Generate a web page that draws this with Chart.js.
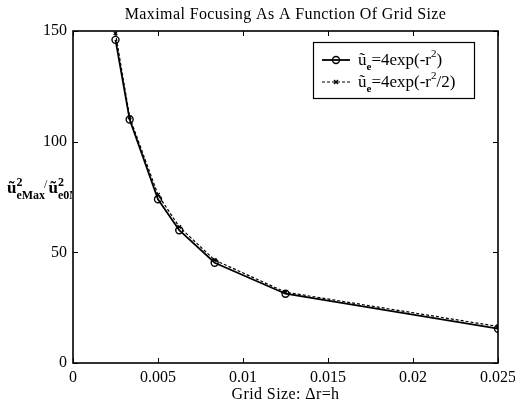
<!DOCTYPE html>
<html>
<head>
<meta charset="utf-8">
<script src="https://cdn.jsdelivr.net/npm/chart.js@4/dist/chart.umd.min.js"></script>
<style>
  html, body { margin: 0; padding: 0; background: #fff; }
  #wrap { width: 515px; height: 405px; position: relative; }
</style>
</head>
<body>
<div id="wrap"><canvas id="focusChart"></canvas></div>
<script>
// --- Data ---
const gridSizes = [0.0025, 0.003333, 0.005, 0.00625, 0.008333, 0.0125, 0.025];
const focusGauss = [146, 110, 74, 60, 45.3, 31.3, 15.5];      // 4exp(-r^2)
const focusGaussHalf = [149, 111, 76, 61.5, 46.5, 32, 16.5];   // 4exp(-r^2/2)
const xTicks = [0, 0.005, 0.01, 0.015, 0.02, 0.025];
const xTickLabels = ['0', '0.005', '0.01', '0.015', '0.02', '0.025'];
const yTicks = [0, 50, 100, 150];

const SERIF = "'Liberation Serif', 'DejaVu Serif', serif";

function toPoints(xs, ys) {
    return xs.map((x, i) => ({ x: x, y: ys[i] }));
}

// draw a run of text pieces, each with its own size / offset
function drawRich(ctx, x, y, parts) {
    let cx = x;
    parts.forEach(p => {
        ctx.font = (p.bold ? 'bold ' : '') + p.size + 'px ' + SERIF;
        ctx.fillText(p.t, cx, y + (p.dy || 0));
        cx += ctx.measureText(p.t).width + (p.gap || 0);
    });
    return cx;
}

// frame, inward ticks, title, axis label and legend box
const matlabDecor = {
    id: 'matlabDecor',
    afterDraw(chart) {
        const ctx = chart.ctx;
        const a = chart.chartArea;
        const xs = chart.scales.x, ys = chart.scales.y;
        ctx.save();
        ctx.strokeStyle = '#000';
        ctx.lineWidth = 1.6;
        ctx.strokeRect(a.left, a.top, a.right - a.left, a.bottom - a.top);

        ctx.lineWidth = 1;
        ctx.beginPath();
        xTicks.forEach(v => {
            const px = Math.round(xs.getPixelForValue(v)) + 0.5;
            ctx.moveTo(px, a.bottom); ctx.lineTo(px, a.bottom - 5);
            ctx.moveTo(px, a.top); ctx.lineTo(px, a.top + 5);
        });
        yTicks.forEach(v => {
            const py = Math.round(ys.getPixelForValue(v)) + 0.5;
            ctx.moveTo(a.left, py); ctx.lineTo(a.left + 5, py);
            ctx.moveTo(a.right, py); ctx.lineTo(a.right - 5, py);
        });
        ctx.stroke();

        ctx.fillStyle = '#000';
        ctx.textBaseline = 'alphabetic';
        ctx.textAlign = 'center';
        ctx.font = '16px ' + SERIF;
        ctx.letterSpacing = '0.4px';
        ctx.fillText('Maximal Focusing As A Function Of Grid Size', (a.left + a.right) / 2, 19);
        ctx.fillText('Grid Size: \u0394r=h', (a.left + a.right) / 2, 399);
        ctx.letterSpacing = '0px';

        // y axis label, clipped at the axis line
        ctx.textAlign = 'left';
        ctx.save();
        ctx.beginPath();
        ctx.rect(0, 150, a.left - 1, 80);
        ctx.clip();
        let cx = drawRich(ctx, 7, 193, [{ t: '\u0169', size: 17, bold: true }]);
        drawRich(ctx, cx, 186, [{ t: '2', size: 12, bold: true }]);
        cx = drawRich(ctx, cx, 199, [{ t: 'eMax', size: 12, bold: true }]);
        cx = drawRich(ctx, cx - 1, 188, [{ t: '/', size: 12 }]);
        cx = drawRich(ctx, cx + 1, 193, [{ t: '\u0169', size: 17, bold: true }]);
        drawRich(ctx, cx, 186, [{ t: '2', size: 12, bold: true }]);
        drawRich(ctx, cx, 199, [{ t: 'e0Max', size: 12, bold: true }]);
        ctx.restore();

        // legend
        const lx = 313, ly = 42, lw = 161, lh = 56;
        ctx.fillStyle = '#fff';
        ctx.fillRect(lx, ly, lw, lh);
        ctx.lineWidth = 1.2;
        ctx.strokeRect(lx + 0.5, ly + 0.5, lw, lh);
        ctx.fillStyle = '#000';

        const rows = [
            { y: 60, dash: [], width: 1.8, marker: 'circle', tail: [{ t: ')', size: 17 }] },
            { y: 82, dash: [3, 2], width: 1.2, marker: 'cross', tail: [{ t: '/2)', size: 17 }] }
        ];
        rows.forEach(r => {
            ctx.beginPath();
            ctx.setLineDash(r.dash);
            ctx.lineWidth = r.width;
            ctx.moveTo(322, r.y); ctx.lineTo(350, r.y);
            ctx.stroke();
            ctx.setLineDash([]);
            ctx.lineWidth = 1.4;
            ctx.beginPath();
            if (r.marker === 'circle') {
                ctx.arc(336, r.y, 3.5, 0, Math.PI * 2);
            } else {
                ctx.moveTo(334, r.y - 2); ctx.lineTo(338, r.y + 2);
                ctx.moveTo(338, r.y - 2); ctx.lineTo(334, r.y + 2);
            }
            ctx.stroke();
            let tx = drawRich(ctx, 358, r.y + 5, [{ t: '\u0169', size: 17 }]);
            tx = drawRich(ctx, tx, r.y + 10, [{ t: 'e', size: 11, bold: true }]);
            tx = drawRich(ctx, tx, r.y + 5, [{ t: '=4exp(-r', size: 17 }]);
            tx = drawRich(ctx, tx, r.y - 3, [{ t: '2', size: 11 }]);
            drawRich(ctx, tx, r.y + 5, r.tail);
        });
        ctx.restore();
    }
};

const ctxFocus = document.getElementById('focusChart').getContext('2d');
const focusChart = new Chart(ctxFocus, {
    type: 'scatter',
    data: {
        datasets: [
            {
                label: '4exp(-r^2)',
                data: toPoints(gridSizes, focusGauss),
                showLine: true,
                borderColor: '#000',
                borderWidth: 1.8,
                pointStyle: 'circle',
                pointRadius: 3.5,
                pointBorderWidth: 1.4,
                pointBackgroundColor: 'rgba(0,0,0,0)',
                pointBorderColor: '#000'
            },
            {
                label: '4exp(-r^2/2)',
                data: toPoints(gridSizes, focusGaussHalf),
                showLine: true,
                borderColor: '#000',
                borderWidth: 1.2,
                borderDash: [3, 2],
                pointStyle: 'crossRot',
                pointRadius: 2.5,
                pointBorderWidth: 1.3,
                pointBorderColor: '#000'
            }
        ]
    },
    options: {
        responsive: true,
        maintainAspectRatio: false,
        animation: false,
        layout: { padding: { left: 0, top: 31, right: 17, bottom: 0 } },
        plugins: {
            legend: { display: false },
            tooltip: { enabled: false }
        },
        scales: {
            x: {
                type: 'linear',
                min: 0,
                max: 0.025,
                // the last label may run off the edge; keep the plot width fixed
                afterFit: s => { s.height = 42; s.paddingLeft = 0; s.paddingRight = 0; },
                afterBuildTicks: s => { s.ticks = xTicks.map(v => ({ value: v })); },
                grid: { display: false, drawTicks: false },
                border: { display: false },
                ticks: {
                    color: '#000',
                    padding: 5,
                    maxRotation: 0,
                    font: { family: SERIF, size: 16 },
                    callback: (v, i) => xTickLabels[i]
                }
            },
            y: {
                type: 'linear',
                min: 0,
                max: 150,
                afterFit: s => { s.width = 73; },
                afterBuildTicks: s => { s.ticks = yTicks.map(v => ({ value: v })); },
                grid: { display: false, drawTicks: false },
                border: { display: false },
                ticks: {
                    color: '#000',
                    padding: 6,
                    font: { family: SERIF, size: 16 }
                }
            }
        }
    },
    plugins: [matlabDecor]
});
</script>
</body>
</html>
